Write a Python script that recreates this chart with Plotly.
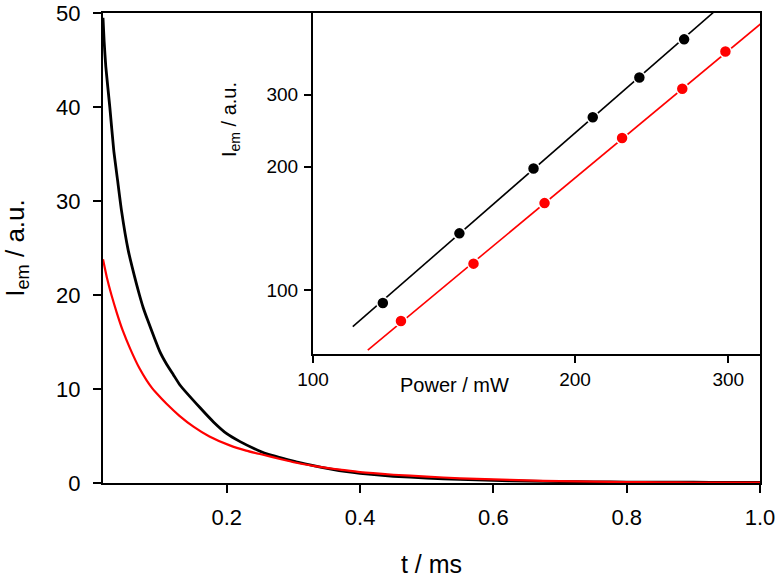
import plotly.graph_objects as go

# Main decay curves (t / ms, I_em / a.u.)
t_black = [0.0143, 0.016, 0.0185, 0.0245, 0.0304, 0.036, 0.042, 0.052, 0.0644, 0.069,
           0.0744, 0.082, 0.0994, 0.11, 0.12, 0.13, 0.16, 0.18, 0.20, 0.22,
           0.24, 0.26, 0.28, 0.3045, 0.33, 0.3545, 0.38, 0.40, 0.45, 0.50,
           0.55, 0.60, 0.65, 0.70, 0.75, 0.80, 0.85, 0.90, 0.95, 1.00]
i_black = [49.5, 47.0, 44.3, 40.0, 35.4, 32.3, 29.0, 24.8, 21.2, 20.0,
           18.7, 17.2, 14.0, 12.6, 11.5, 10.4, 8.0, 6.5, 5.25, 4.4,
           3.7, 3.1, 2.7, 2.25, 1.85, 1.5, 1.2, 1.03, 0.72, 0.52,
           0.38, 0.28, 0.2, 0.15, 0.12, 0.1, 0.09, 0.08, 0.07, 0.07]

t_red = [0.0143, 0.020, 0.027, 0.035, 0.044, 0.055, 0.069, 0.080, 0.088, 0.094,
         0.11, 0.129, 0.15, 0.174, 0.2045, 0.229, 0.2545, 0.28, 0.3045, 0.33,
         0.3545, 0.37, 0.40, 0.45, 0.50, 0.55, 0.60, 0.65, 0.70, 0.75,
         0.80, 0.85, 0.90, 0.95, 1.00]
i_red = [23.8, 21.9, 20.0, 18.1, 16.2, 14.3, 12.2, 10.9, 10.1, 9.6,
         8.4, 7.15, 6.0, 4.95, 4.0, 3.45, 3.0, 2.55, 2.15, 1.82,
         1.56, 1.42, 1.15, 0.88, 0.68, 0.5, 0.38, 0.27, 0.2, 0.14,
         0.1, 0.07, 0.05, 0.04, 0.03]

# Inset: power dependence (log-log)
power_black = [120.3, 147.3, 179.2, 209.6, 237.1, 266.9]
iem_black = [93, 137.5, 198, 264, 330, 409]
power_red = [126.2, 152.9, 184.5, 226.5, 265.6, 297.7]
iem_red = [84, 116, 163, 235, 310, 382]

fit_power_black = [111.1, 300.0]
fit_iem_black = [81.4, 512.0]
fit_power_red = [115.6, 330.0]
fit_iem_red = [71.4, 454.0]

main_ticks = [0.2, 0.4, 0.6, 0.8, 1.0]
main_ticktext = ["0.2", "0.4", "0.6", "0.8", "1.0"]
inset_ticks = [100, 200, 300]
inset_ticktext = ["100", "200", "300"]

FONT = "Liberation Sans, Arial, sans-serif"

fig = go.Figure()
fig.add_trace(go.Scatter(x=t_black, y=i_black, mode="lines",
                         line=dict(color="black", width=2.8, shape="spline", smoothing=0.5),
                         xaxis="x", yaxis="y"))
fig.add_trace(go.Scatter(x=t_red, y=i_red, mode="lines",
                         line=dict(color="#ff0000", width=2.2, shape="spline", smoothing=0.5),
                         xaxis="x", yaxis="y"))

fig.add_trace(go.Scatter(x=fit_power_black, y=fit_iem_black, mode="lines",
                         line=dict(color="black", width=1.6), xaxis="x2", yaxis="y2"))
fig.add_trace(go.Scatter(x=fit_power_red, y=fit_iem_red, mode="lines",
                         line=dict(color="#ff0000", width=1.6), xaxis="x2", yaxis="y2"))
fig.add_trace(go.Scatter(x=power_black, y=iem_black, mode="markers",
                         marker=dict(color="black", size=12, line=dict(color="white", width=1.5)),
                         xaxis="x2", yaxis="y2"))
fig.add_trace(go.Scatter(x=power_red, y=iem_red, mode="markers",
                         marker=dict(color="#ff0000", size=12, line=dict(color="white", width=1.5)),
                         xaxis="x2", yaxis="y2"))

axis_common = dict(showline=True, linecolor="black", linewidth=2, mirror=True,
                   ticks="outside", tickwidth=2, tickcolor="black",
                   showgrid=False, zeroline=False, automargin=False,
                   ticklabeloverflow="allow")

fig.update_layout(
    width=780, height=579,
    autosize=False,
    margin=dict(l=103, r=20, t=13, b=96, pad=0),
    paper_bgcolor="white", plot_bgcolor="white",
    showlegend=False,
    hovermode=False,
    font=dict(family=FONT, color="black"),
    xaxis=dict(domain=[0, 1], range=[0.0143, 1.0], tickvals=main_ticks, ticktext=main_ticktext,
               tickfont=dict(size=22), ticklabelstandoff=6, ticklen=8,
               title=dict(text="t / ms", font=dict(size=25), standoff=26), **axis_common),
    yaxis=dict(domain=[0, 1], range=[0, 50], tickvals=[0, 10, 20, 30, 40, 50],
               tickfont=dict(size=22), ticklabelstandoff=8, ticklen=8,
               title=dict(text="I<sub>em</sub> / a.u.", font=dict(size=26), standoff=30), **axis_common),
    xaxis2=dict(domain=[0.3196, 1], anchor="y2", type="log", range=[2.0, 2.5135],
                tickvals=inset_ticks, ticktext=inset_ticktext, tickfont=dict(size=19),
                ticklen=7, ticklabelstandoff=0, **axis_common),
    yaxis2=dict(domain=[0.2745, 1], anchor="x2", type="log", range=[1.844, 2.676],
                tickvals=inset_ticks, ticktext=inset_ticktext, tickfont=dict(size=19),
                ticklen=7, ticklabelstandoff=2, **axis_common),
    annotations=[
        dict(text="Power / mW", xref="paper", yref="paper", x=(454 - 103) / 657, y=(483 - 385) / 470,
             showarrow=False, font=dict(size=20), xanchor="center", yanchor="middle"),
        dict(text="I<sub>em</sub> / a.u.", xref="paper", yref="paper", x=(230 - 103) / 657, y=(483 - 120) / 470,
             showarrow=False, font=dict(size=20), textangle=-90, xanchor="center", yanchor="middle"),
    ],
)

# Remove the default page margin so the 780x579 figure fills the window exactly.
fig.write_html("out.html",
               config={"displayModeBar": False, "staticPlot": True},
               post_script="document.body.style.margin='0';document.body.style.overflow='hidden';")
